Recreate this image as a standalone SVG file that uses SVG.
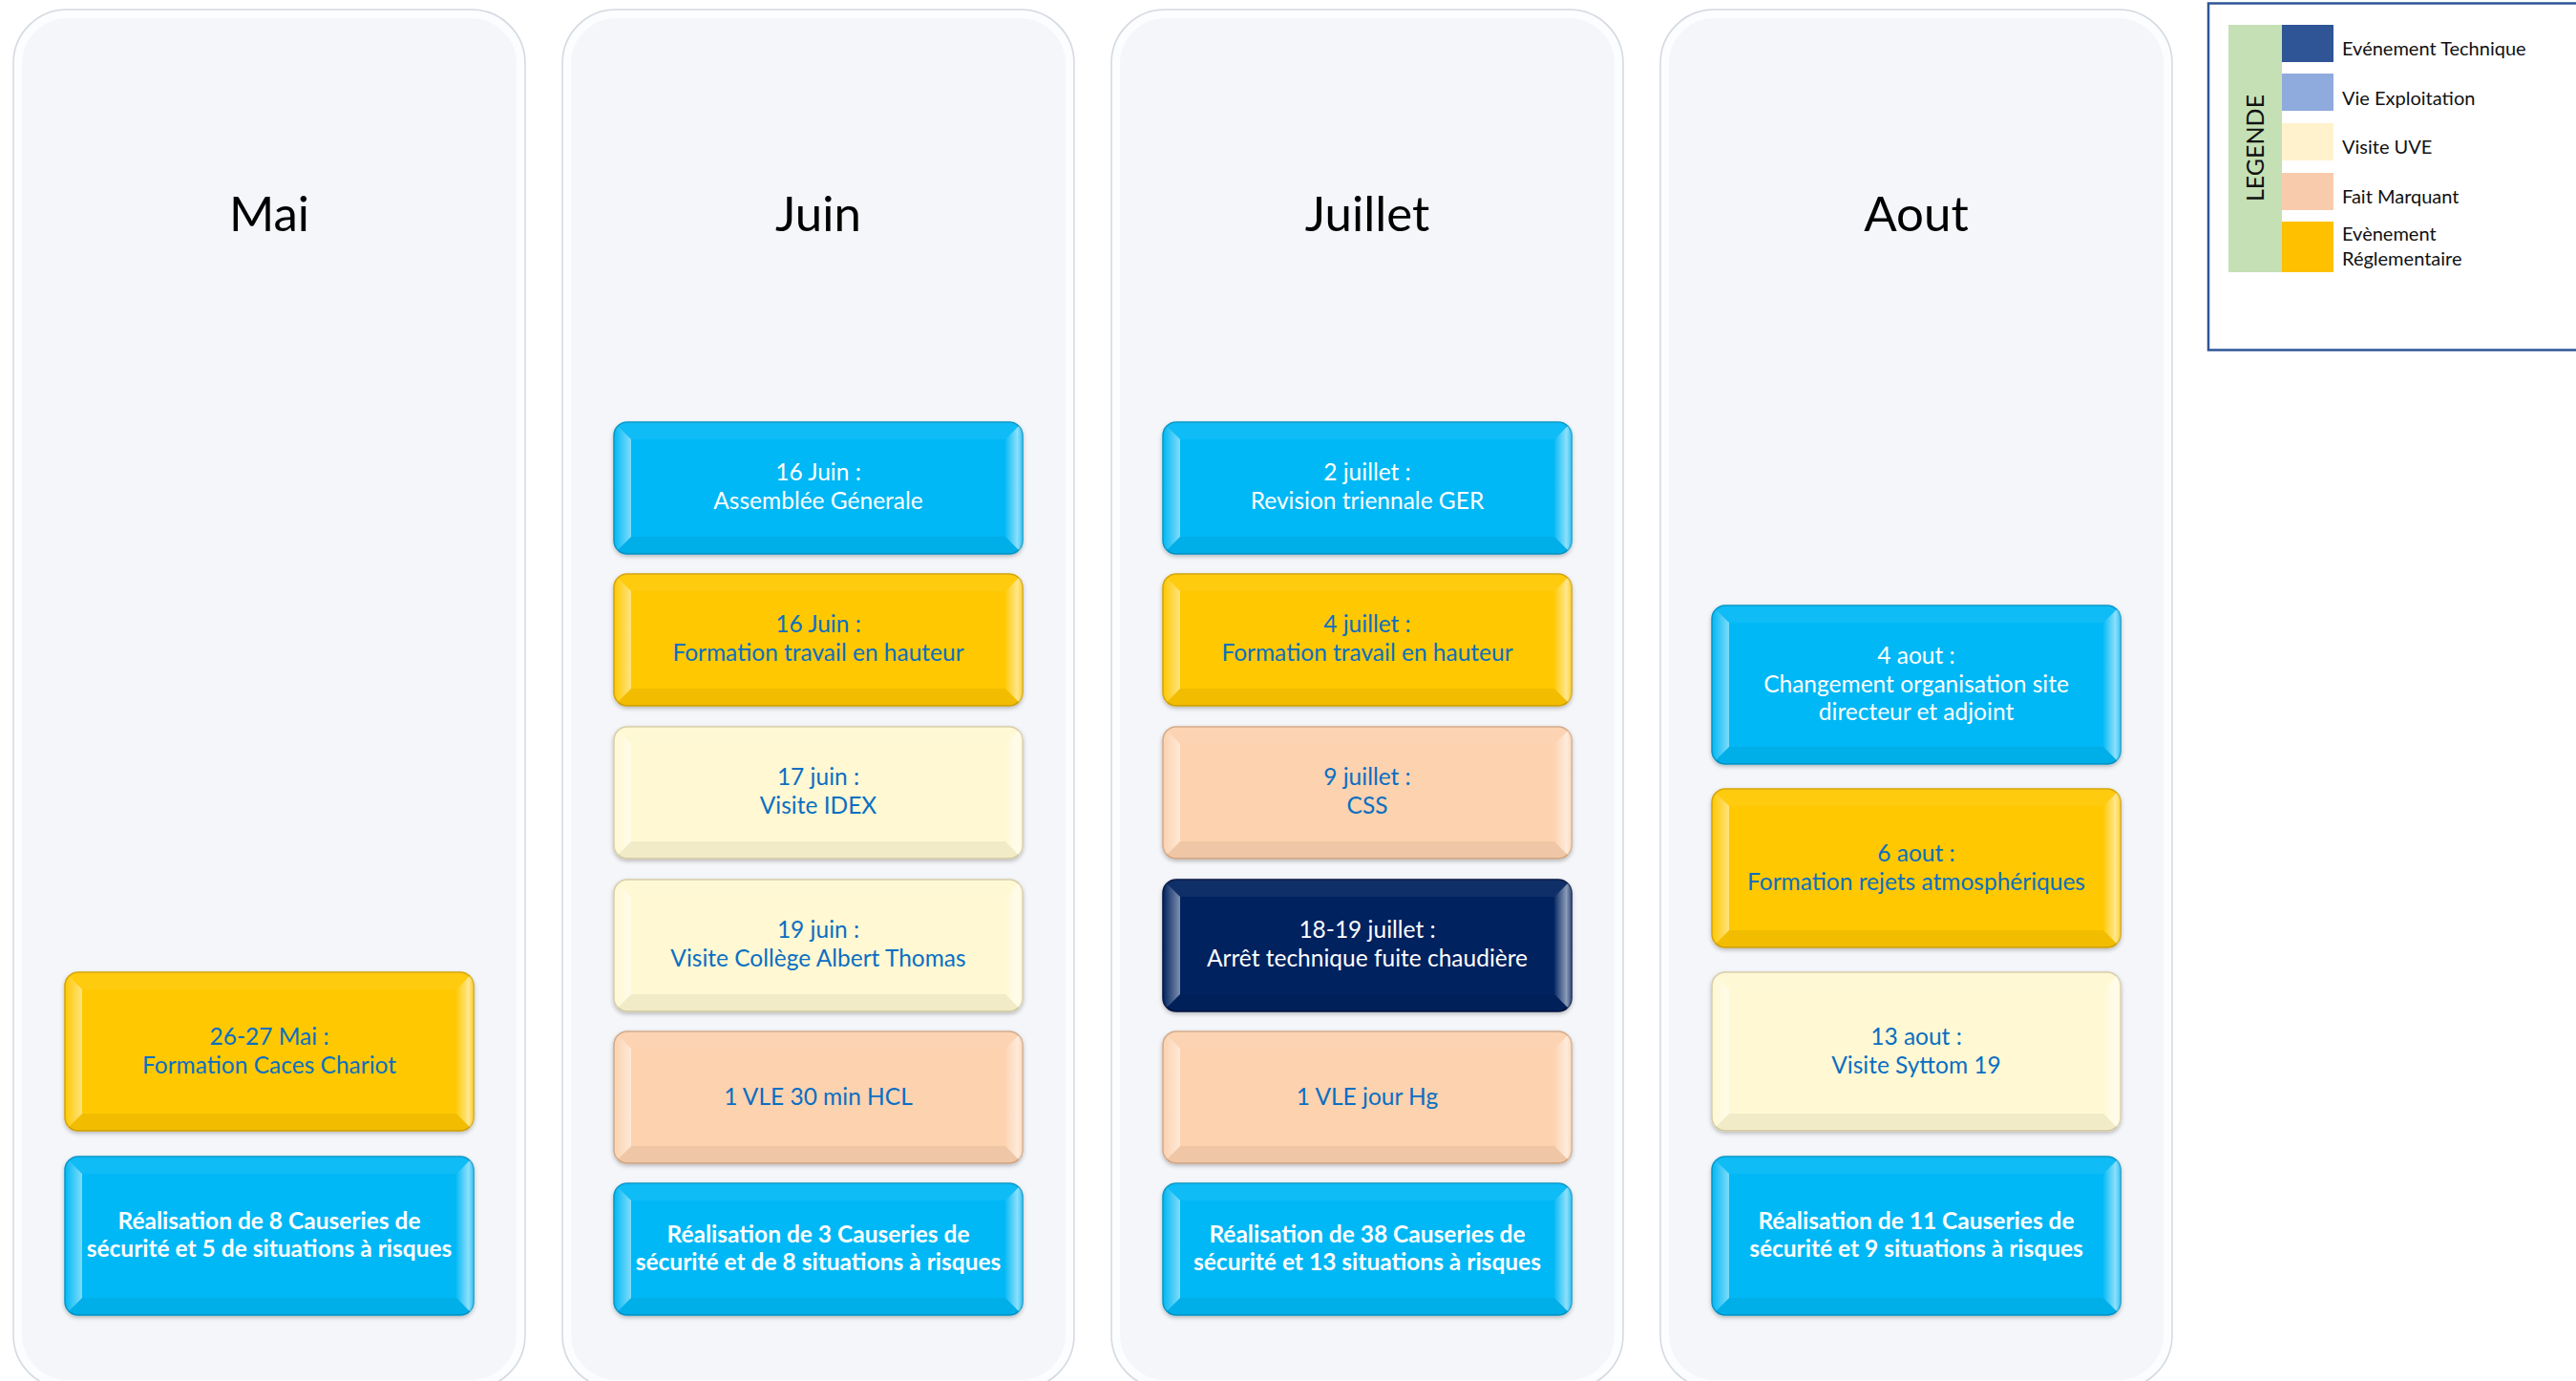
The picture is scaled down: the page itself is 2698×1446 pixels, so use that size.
<svg xmlns="http://www.w3.org/2000/svg" xmlns:xlink="http://www.w3.org/1999/xlink" width="2698" height="1446" viewBox="0 0 2698 1446">
<style>
.panel{fill:#F4F6FA;stroke:#D5D9E0;stroke-width:1.5}
.panelIn{fill:none;stroke:#FFFFFF;stroke-opacity:.75;stroke-width:8}
.month{font-family:Lato,"Open Sans",sans-serif;font-size:51px;fill:#000;text-anchor:middle}
.box{stroke-width:1.5}
.blue{fill:#03B8F5;stroke:#0596C8}
.yellow{fill:#FFC804;stroke:#D4A300}
.cream{fill:#FFF8D3;stroke:#D6CDA6}
.peach{fill:#FCD2AF;stroke:#D3A887}
.navy{fill:#04205F;stroke:#01143F}
.t{font-family:Lato,"Open Sans",sans-serif;font-size:24.5px;text-anchor:middle}
.tb{fill:#0A6FC2}
.tw{fill:#FFFFFF}
.bold{font-weight:bold;font-size:24.5px}
.leg{font-family:Lato,"Open Sans",sans-serif;font-size:20px;fill:#111}
</style>
<defs>
<filter id="sh" x="-5%" y="-10%" width="110%" height="125%">
<feDropShadow dx="0" dy="2" stdDeviation="2" flood-color="#000" flood-opacity="0.25"/>
</filter>
<linearGradient id="gl" x1="0" y1="0" x2="1" y2="0">
<stop offset="0" stop-color="#fff" stop-opacity="0"/>
<stop offset="1" stop-color="#fff" stop-opacity="0.5"/>
</linearGradient>
<linearGradient id="gr" x1="0" y1="0" x2="1" y2="0">
<stop offset="0" stop-color="#fff" stop-opacity="0.05"/>
<stop offset="0.7" stop-color="#fff" stop-opacity="0.55"/>
<stop offset="1" stop-color="#fff" stop-opacity="0.2"/>
</linearGradient>
<clipPath id="c138"><rect width="428" height="138" rx="14"/></clipPath>
<clipPath id="c166"><rect width="428" height="166" rx="14"/></clipPath>
<g id="bev138" clip-path="url(#c138)">
<polygon points="0,0 428,0 410,18 18,18" fill="#fff" fill-opacity="0.06"/>
<polygon points="18,120 410,120 428,138 0,138" fill="#000" fill-opacity="0.05"/>
<polygon points="0,0 18,18 18,120 0,138" fill="url(#gl)"/>
<polygon points="428,0 410,18 410,120 428,138" fill="url(#gr)"/>
</g>
<g id="bev166" clip-path="url(#c166)">
<polygon points="0,0 428,0 410,18 18,18" fill="#fff" fill-opacity="0.06"/>
<polygon points="18,148 410,148 428,166 0,166" fill="#000" fill-opacity="0.05"/>
<polygon points="0,0 18,18 18,148 0,166" fill="url(#gl)"/>
<polygon points="428,0 410,18 410,148 428,166" fill="url(#gr)"/>
</g>
</defs>
<rect width="2698" height="1446" fill="#FFFFFF"/>

<g id="panels">
<g id="panel-mai"><rect class="panel" x="14" y="10" width="536" height="1444" rx="56"/><rect class="panelIn" x="19" y="15" width="526" height="1434" rx="52"/><text class="month" x="282" y="242">Mai</text></g>
<g id="panel-juin"><rect class="panel" x="589" y="10" width="536" height="1444" rx="56"/><rect class="panelIn" x="594" y="15" width="526" height="1434" rx="52"/><text class="month" x="857" y="242">Juin</text></g>
<g id="panel-juillet"><rect class="panel" x="1164" y="10" width="536" height="1444" rx="56"/><rect class="panelIn" x="1169" y="15" width="526" height="1434" rx="52"/><text class="month" x="1432" y="242">Juillet</text></g>
<g id="panel-aout"><rect class="panel" x="1739" y="10" width="536" height="1444" rx="56"/><rect class="panelIn" x="1744" y="15" width="526" height="1434" rx="52"/><text class="month" x="2007" y="242">Aout</text></g>
</g>

<g id="connectors"></g>

<!-- Mai -->
<g id="mai-1" transform="translate(68,1018)"><rect class="box yellow" width="428" height="166" rx="14" filter="url(#sh)"/><use href="#bev166"/><text class="t tb"><tspan x="214" y="76">26-27 Mai :</tspan><tspan x="214" y="106">Formation Caces Chariot</tspan></text></g>
<g id="mai-2" transform="translate(68,1211)"><rect class="box blue" width="428" height="166" rx="14" filter="url(#sh)"/><use href="#bev166"/><text class="t tw bold"><tspan x="214" y="76">Réalisation de 8 Causeries de</tspan><tspan x="214" y="105">sécurité et 5 de situations à risques</tspan></text></g>

<!-- Juin -->
<g id="juin-1" transform="translate(643,442)"><rect class="box blue" width="428" height="138" rx="14" filter="url(#sh)"/><use href="#bev138"/><text class="t tw"><tspan x="214" y="61">16 Juin :</tspan><tspan x="214" y="91">Assemblée Génerale</tspan></text></g>
<g id="juin-2" transform="translate(643,601)"><rect class="box yellow" width="428" height="138" rx="14" filter="url(#sh)"/><use href="#bev138"/><text class="t tb"><tspan x="214" y="61">16 Juin :</tspan><tspan x="214" y="91">Formation travail en hauteur</tspan></text></g>
<g id="juin-3" transform="translate(643,761)"><rect class="box cream" width="428" height="138" rx="14" filter="url(#sh)"/><use href="#bev138"/><text class="t tb"><tspan x="214" y="61">17 juin :</tspan><tspan x="214" y="91">Visite IDEX</tspan></text></g>
<g id="juin-4" transform="translate(643,921)"><rect class="box cream" width="428" height="138" rx="14" filter="url(#sh)"/><use href="#bev138"/><text class="t tb"><tspan x="214" y="61">19 juin :</tspan><tspan x="214" y="91">Visite Collège Albert Thomas</tspan></text></g>
<g id="juin-5" transform="translate(643,1080)"><rect class="box peach" width="428" height="138" rx="14" filter="url(#sh)"/><use href="#bev138"/><text class="t tb" x="214" y="77">1 VLE 30 min HCL</text></g>
<g id="juin-6" transform="translate(643,1239)"><rect class="box blue" width="428" height="138" rx="14" filter="url(#sh)"/><use href="#bev138"/><text class="t tw bold"><tspan x="214" y="62">Réalisation de 3 Causeries de</tspan><tspan x="214" y="91">sécurité et de 8 situations à risques</tspan></text></g>

<!-- Juillet -->
<g id="juillet-1" transform="translate(1218,442)"><rect class="box blue" width="428" height="138" rx="14" filter="url(#sh)"/><use href="#bev138"/><text class="t tw"><tspan x="214" y="61">2 juillet :</tspan><tspan x="214" y="91">Revision triennale GER</tspan></text></g>
<g id="juillet-2" transform="translate(1218,601)"><rect class="box yellow" width="428" height="138" rx="14" filter="url(#sh)"/><use href="#bev138"/><text class="t tb"><tspan x="214" y="61">4 juillet :</tspan><tspan x="214" y="91">Formation travail en hauteur</tspan></text></g>
<g id="juillet-3" transform="translate(1218,761)"><rect class="box peach" width="428" height="138" rx="14" filter="url(#sh)"/><use href="#bev138"/><text class="t tb"><tspan x="214" y="61">9 juillet :</tspan><tspan x="214" y="91">CSS</tspan></text></g>
<g id="juillet-4" transform="translate(1218,921)"><rect class="box navy" width="428" height="138" rx="14" filter="url(#sh)"/><use href="#bev138"/><text class="t tw"><tspan x="214" y="61">18-19 juillet :</tspan><tspan x="214" y="91">Arrêt technique fuite chaudière</tspan></text></g>
<g id="juillet-5" transform="translate(1218,1080)"><rect class="box peach" width="428" height="138" rx="14" filter="url(#sh)"/><use href="#bev138"/><text class="t tb" x="214" y="77">1 VLE jour Hg</text></g>
<g id="juillet-6" transform="translate(1218,1239)"><rect class="box blue" width="428" height="138" rx="14" filter="url(#sh)"/><use href="#bev138"/><text class="t tw bold"><tspan x="214" y="62">Réalisation de 38 Causeries de</tspan><tspan x="214" y="91">sécurité et 13 situations à risques</tspan></text></g>

<!-- Aout -->
<g id="aout-1" transform="translate(1793,634)"><rect class="box blue" width="428" height="166" rx="14" filter="url(#sh)"/><use href="#bev166"/><text class="t tw"><tspan x="214" y="61">4 aout :</tspan><tspan x="214" y="91">Changement organisation site</tspan><tspan x="214" y="120">directeur et adjoint</tspan></text></g>
<g id="aout-2" transform="translate(1793,826)"><rect class="box yellow" width="428" height="166" rx="14" filter="url(#sh)"/><use href="#bev166"/><text class="t tb"><tspan x="214" y="76">6 aout :</tspan><tspan x="214" y="106">Formation rejets atmosphériques</tspan></text></g>
<g id="aout-3" transform="translate(1793,1018)"><rect class="box cream" width="428" height="166" rx="14" filter="url(#sh)"/><use href="#bev166"/><text class="t tb"><tspan x="214" y="76">13 aout :</tspan><tspan x="214" y="106">Visite Syttom 19</tspan></text></g>
<g id="aout-4" transform="translate(1793,1211)"><rect class="box blue" width="428" height="166" rx="14" filter="url(#sh)"/><use href="#bev166"/><text class="t tw bold"><tspan x="214" y="76">Réalisation de 11 Causeries de</tspan><tspan x="214" y="105">sécurité et 9 situations à risques</tspan></text></g>

<!-- Legend -->
<g id="legend">
<rect x="2313" y="3.5" width="400" height="363" fill="#FFFFFF" stroke="#2F5597" stroke-width="2.5"/>
<rect x="2334" y="26" width="56" height="259" fill="#C5E0B4"/>
<text class="leg" transform="translate(2371,155) rotate(-90)" text-anchor="middle" style="font-size:25px">LEGENDE</text>
<rect x="2390" y="26" width="54" height="39" fill="#2F5597"/>
<rect x="2390" y="77" width="54" height="39" fill="#8FAADC"/>
<rect x="2390" y="129" width="54" height="39" fill="#FFF2CC"/>
<rect x="2390" y="181" width="54" height="39" fill="#F8CBAD"/>
<rect x="2390" y="232" width="54" height="53" fill="#FFC000"/>
<text class="leg" x="2453" y="58">Evénement Technique</text>
<text class="leg" x="2453" y="110">Vie Exploitation</text>
<text class="leg" x="2453" y="161">Visite UVE</text>
<text class="leg" x="2453" y="213">Fait Marquant</text>
<text class="leg" x="2453" y="252">Evènement</text>
<text class="leg" x="2453" y="278">Réglementaire</text>
</g>
</svg>
